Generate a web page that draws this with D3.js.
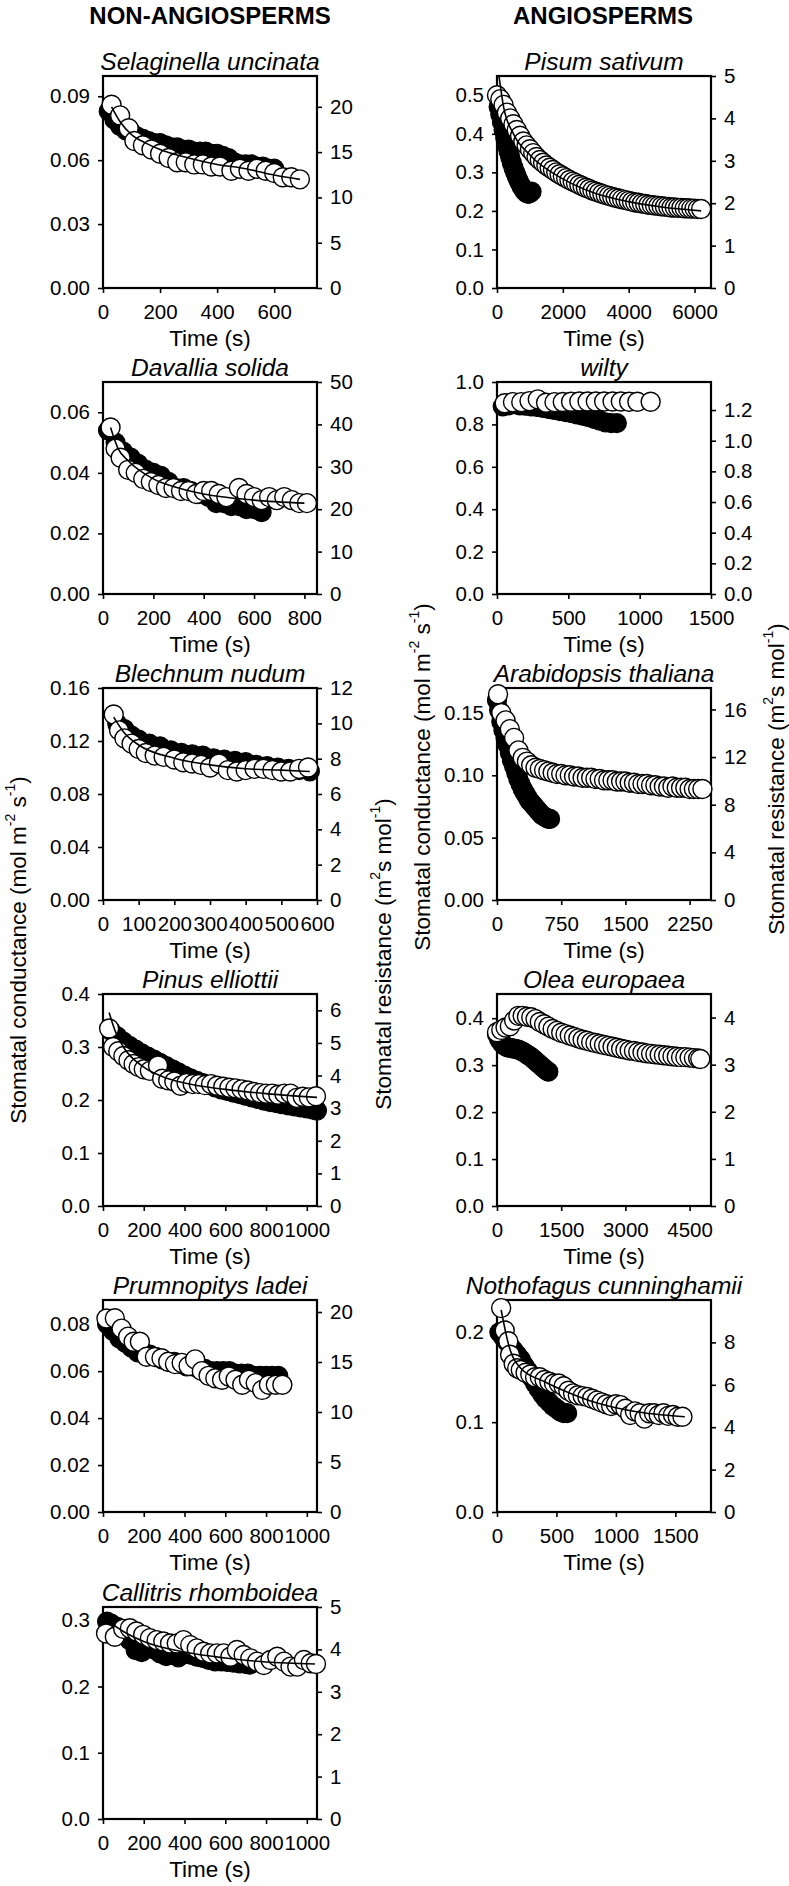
<!DOCTYPE html>
<html><head><meta charset="utf-8">
<script src="https://cdn.jsdelivr.net/npm/d3@7"></script>
<style>
body{margin:0;background:#fff}
text{font-family:"Liberation Sans",Arial,Helvetica,sans-serif;fill:#000}
</style>
</head><body>
<svg id="chart" width="789" height="1886"></svg>
<script>
// ---------------- DATA ----------------
const columnHeaders = ["NON-ANGIOSPERMS", "ANGIOSPERMS"];
const speciesNames = ["Selaginella uncinata","Davallia solida","Blechnum nudum","Pinus elliottii","Prumnopitys ladei","Callitris rhomboidea",
  "Pisum sativum","wilty","Arabidopsis thaliana","Olea europaea","Nothofagus cunninghamii"];
const xAxisTitle = "Time (s)";

// Selaginella uncinata
const selaginellaFilled = [[20,0.083],[40,0.079],[60,0.076],[80,0.074],[100,0.073],[120,0.071],[140,0.070],[160,0.069],[180,0.068],[200,0.068],[220,0.067],[240,0.066],[260,0.066],[280,0.065],[300,0.065],[320,0.064],[340,0.064],[360,0.064],[380,0.063],[400,0.063],[420,0.062],[440,0.061],[460,0.059],[480,0.058],[500,0.058],[520,0.058],[540,0.057],[560,0.057],[580,0.056],[600,0.056]];
const selaginellaOpen = [[30,0.086],[60,0.081],[90,0.075],[110,0.069],[140,0.067],[170,0.065],[200,0.063],[230,0.061],[260,0.059],[290,0.059],[320,0.058],[350,0.058],[380,0.057],[410,0.057],[450,0.055],[480,0.056],[510,0.055],[540,0.056],[570,0.055],[600,0.054],[630,0.052],[660,0.052],[690,0.051]];
const selaginellaFit = [[30,0.085],[60,0.078],[100,0.072],[150,0.068],[200,0.065],[300,0.061],[400,0.058],[500,0.056],[600,0.053],[690,0.051]];

// Davallia solida
const davalliaFilled = [[20,0.054],[50,0.050],[80,0.047],[110,0.045],[140,0.043],[170,0.041],[200,0.040],[230,0.039],[260,0.037],[290,0.035],[320,0.035],[350,0.034],[380,0.033],[420,0.032],[450,0.030],[480,0.030],[510,0.029],[540,0.029],[570,0.028],[600,0.028],[630,0.027]];
const davalliaOpen = [[30,0.055],[50,0.048],[70,0.045],[100,0.041],[130,0.040],[160,0.038],[190,0.037],[220,0.036],[250,0.035],[280,0.035],[310,0.034],[340,0.034],[370,0.033],[400,0.034],[430,0.034],[460,0.033],[490,0.032],[540,0.035],[570,0.033],[600,0.032],[630,0.031],[660,0.032],[690,0.031],[720,0.032],[750,0.031],[780,0.030],[810,0.030]];
const davalliaFit = [[30,0.055],[60,0.048],[100,0.044],[200,0.038],[300,0.035],[400,0.033],[600,0.031],[800,0.030]];

// Blechnum nudum
const blechnumFilled = [[40,0.133],[60,0.129],[80,0.124],[100,0.121],[130,0.118],[160,0.116],[190,0.113],[220,0.111],[250,0.110],[280,0.109],[310,0.107],[340,0.106],[370,0.105],[400,0.104],[430,0.102],[460,0.101],[490,0.100],[520,0.099],[550,0.098],[580,0.097]];
const blechnumOpen = [[30,0.140],[45,0.128],[60,0.122],[80,0.118],[100,0.114],[120,0.111],[145,0.109],[170,0.108],[200,0.106],[225,0.104],[250,0.103],[275,0.102],[300,0.100],[325,0.103],[350,0.098],[375,0.097],[400,0.098],[425,0.099],[450,0.099],[475,0.098],[500,0.097],[525,0.097],[550,0.099],[575,0.100]];
const blechnumFit = [[30,0.138],[60,0.126],[100,0.117],[200,0.107],[300,0.102],[400,0.099],[500,0.098],[580,0.097]];

// Pinus elliottii
const pinusFilled = [[40,0.330],[70,0.320],[100,0.310],[130,0.302],[160,0.295],[190,0.288],[220,0.282],[250,0.276],[280,0.270],[310,0.264],[340,0.258],[370,0.252],[400,0.246],[430,0.241],[460,0.236],[490,0.232],[520,0.228],[550,0.224],[580,0.220],[610,0.217],[640,0.214],[670,0.211],[700,0.208],[730,0.205],[760,0.202],[790,0.199],[820,0.196],[850,0.194],[880,0.192],[910,0.190],[940,0.188],[970,0.186],[1000,0.184],[1030,0.182],[1050,0.180]];
const pinusOpen = [[30,0.335],[50,0.300],[75,0.292],[100,0.283],[125,0.275],[150,0.268],[175,0.262],[200,0.258],[230,0.255],[270,0.265],[290,0.240],[320,0.237],[350,0.235],[380,0.227],[410,0.232],[440,0.230],[470,0.230],[500,0.228],[530,0.230],[560,0.227],[590,0.225],[620,0.223],[650,0.222],[680,0.220],[710,0.218],[740,0.215],[770,0.213],[800,0.212],[830,0.212],[860,0.210],[890,0.212],[920,0.212],[950,0.204],[980,0.206],[1010,0.205],[1045,0.207]];
const pinusFit = [[30,0.365],[60,0.330],[100,0.300],[200,0.262],[300,0.243],[400,0.232],[600,0.220],[800,0.212],[1050,0.205]];

// Prumnopitys ladei
const prumnopitysFilled = [[20,0.080],[50,0.077],[80,0.074],[110,0.072],[140,0.070],[170,0.068],[200,0.068],[230,0.067],[260,0.066],[290,0.065],[320,0.064],[350,0.064],[380,0.063],[410,0.062],[440,0.062],[470,0.061],[500,0.061],[530,0.060],[560,0.060],[590,0.060],[620,0.060],[650,0.059],[680,0.059],[710,0.059],[740,0.058],[770,0.058],[800,0.058],[830,0.058],[860,0.058]];
const prumnopitysOpen = [[17,0.0824],[58,0.0825],[91,0.0781],[123,0.0747],[150,0.0725],[181,0.0725],[214,0.0661],[255,0.066],[287,0.0655],[320,0.064],[353,0.063],[386,0.0635],[420,0.0622],[452,0.065],[485,0.060],[518,0.058],[551,0.057],[584,0.0563],[617,0.0577],[650,0.0563],[683,0.0542],[716,0.0563],[749,0.0549],[781,0.052],[814,0.0542],[848,0.0542],[880,0.0542]];

// Callitris rhomboidea
const callitrisFilled = [[20,0.298],[40,0.295],[70,0.290],[100,0.283],[130,0.270],[160,0.255],[190,0.252],[220,0.262],[250,0.256],[280,0.250],[310,0.246],[340,0.248],[370,0.244],[400,0.250],[430,0.248],[460,0.245],[490,0.243],[520,0.240],[550,0.238],[580,0.238],[610,0.237],[640,0.236],[670,0.235],[700,0.234],[720,0.233]];
const callitrisOpen = [[15,0.280],[58,0.275],[99,0.287],[132,0.288],[164,0.283],[197,0.278],[230,0.273],[263,0.270],[296,0.268],[329,0.265],[362,0.265],[395,0.270],[428,0.2625],[460,0.2575],[493,0.2525],[526,0.250],[559,0.250],[592,0.250],[625,0.245],[657,0.255],[690,0.2475],[723,0.2425],[756,0.2375],[789,0.2325],[822,0.240],[855,0.245],[888,0.2375],[920,0.230],[953,0.230],[986,0.240],[1019,0.235],[1045,0.234]];
const callitrisFit = [[30,0.298],[100,0.283],[200,0.268],[400,0.252],[600,0.243],[800,0.237],[1040,0.234]];

// Pisum sativum
const pisumFilled = [[50,0.47],[100,0.45],[150,0.43],[200,0.41],[250,0.39],[300,0.37],[350,0.355],[400,0.34],[450,0.325],[500,0.312],[550,0.300],[600,0.290],[650,0.280],[700,0.271],[750,0.263],[800,0.256],[850,0.250],[900,0.246],[950,0.244],[1000,0.246],[1050,0.250]];
const pisumOpen = [[0,0.50],[100,0.49],[200,0.475],[300,0.455],[400,0.44],[500,0.425],[600,0.41],[700,0.395],[800,0.38],[900,0.37],[1000,0.36],[1100,0.35],[1200,0.34],[1300,0.332],[1400,0.325],[1500,0.318],[1600,0.312],[1700,0.306],[1800,0.300],[1900,0.295],[2000,0.290],[2100,0.285],[2200,0.280],[2300,0.276],[2400,0.272],[2500,0.268],[2600,0.264],[2700,0.260],[2800,0.257],[2900,0.253],[3000,0.250],[3100,0.247],[3200,0.244],[3300,0.241],[3400,0.239],[3500,0.236],[3600,0.234],[3700,0.232],[3800,0.230],[3900,0.228],[4000,0.226],[4100,0.224],[4200,0.222],[4300,0.221],[4400,0.219],[4500,0.218],[4600,0.216],[4700,0.215],[4800,0.214],[4900,0.213],[5000,0.212],[5100,0.211],[5200,0.210],[5300,0.209],[5400,0.209],[5500,0.208],[5600,0.208],[5700,0.207],[5800,0.207],[5900,0.206],[6000,0.206],[6100,0.205],[6200,0.205]];
const pisumFit = [[60,0.55],[200,0.47],[500,0.40],[1000,0.345],[2000,0.283],[3000,0.245],[4000,0.224],[5000,0.210],[6200,0.200]];

// wilty
const wiltyFilled = [[40,0.885],[80,0.890],[120,0.895],[160,0.890],[200,0.888],[240,0.885],[280,0.882],[320,0.878],[360,0.873],[400,0.868],[440,0.863],[480,0.858],[520,0.853],[560,0.847],[600,0.841],[640,0.834],[680,0.826],[720,0.818],[760,0.810],[800,0.806],[840,0.806]];
const wiltyOpen = [[54,0.900],[112,0.905],[170,0.905],[228,0.910],[286,0.918],[344,0.902],[403,0.905],[461,0.906],[519,0.907],[577,0.908],[635,0.908],[693,0.908],[751,0.908],[810,0.908],[868,0.908],[926,0.907],[984,0.907],[1077,0.907]];

// Arabidopsis thaliana
const arabidopsisFilled = [[0,0.160],[25,0.152],[50,0.143],[75,0.136],[100,0.130],[125,0.124],[150,0.118],[175,0.112],[200,0.107],[225,0.102],[250,0.097],[275,0.093],[300,0.089],[325,0.086],[350,0.083],[375,0.080],[400,0.078],[425,0.076],[450,0.074],[475,0.072],[500,0.070],[525,0.068],[550,0.067],[575,0.066],[600,0.065],[620,0.065]];
const arabidopsisOpen = [[12,0.165],[50,0.150],[100,0.144],[150,0.137],[200,0.130],[250,0.120],[300,0.114],[350,0.111],[400,0.108],[450,0.106],[500,0.105],[550,0.104],[600,0.103],[650,0.102],[700,0.101],[750,0.101],[800,0.100],[850,0.100],[900,0.099],[950,0.099],[1000,0.098],[1050,0.098],[1100,0.098],[1150,0.097],[1200,0.097],[1250,0.096],[1300,0.096],[1350,0.096],[1400,0.095],[1450,0.095],[1500,0.095],[1550,0.094],[1600,0.094],[1650,0.093],[1700,0.093],[1750,0.093],[1800,0.092],[1850,0.092],[1900,0.091],[1950,0.091],[2000,0.090],[2050,0.091],[2100,0.090],[2150,0.090],[2200,0.090],[2250,0.089],[2300,0.089],[2350,0.089],[2400,0.089]];

// Olea europaea
const oleaFilled = [[0,0.365],[50,0.355],[100,0.348],[150,0.343],[200,0.340],[250,0.338],[300,0.337],[350,0.336],[400,0.335],[450,0.334],[500,0.333],[550,0.331],[600,0.329],[650,0.326],[700,0.323],[750,0.320],[800,0.317],[850,0.313],[900,0.309],[950,0.305],[1000,0.301],[1050,0.297],[1100,0.293],[1150,0.289],[1200,0.286]];
const oleaOpen = [[0,0.370],[100,0.375],[200,0.380],[300,0.383],[400,0.395],[500,0.405],[600,0.405],[700,0.403],[800,0.402],[900,0.398],[1000,0.392],[1100,0.387],[1200,0.382],[1300,0.377],[1400,0.373],[1500,0.369],[1600,0.366],[1700,0.363],[1800,0.360],[1900,0.357],[2000,0.354],[2100,0.352],[2200,0.349],[2300,0.347],[2400,0.345],[2500,0.343],[2600,0.341],[2700,0.339],[2800,0.337],[2900,0.335],[3000,0.333],[3100,0.331],[3200,0.330],[3300,0.328],[3400,0.327],[3500,0.325],[3600,0.324],[3700,0.323],[3800,0.322],[3900,0.321],[4000,0.320],[4100,0.319],[4200,0.318],[4300,0.317],[4400,0.317],[4500,0.316],[4600,0.315],[4700,0.314],[4750,0.313]];

// Nothofagus cunninghamii
const nothofagusFilled = [[20,0.200],[50,0.195],[80,0.190],[110,0.185],[140,0.180],[170,0.175],[200,0.170],[230,0.163],[260,0.157],[290,0.150],[320,0.143],[350,0.137],[380,0.131],[410,0.126],[440,0.122],[470,0.118],[500,0.115],[530,0.112],[560,0.110],[590,0.110]];
const nothofagusOpen = [[35,0.227],[65,0.202],[95,0.190],[110,0.175],[140,0.165],[170,0.160],[200,0.158],[240,0.155],[280,0.153],[320,0.150],[360,0.150],[400,0.147],[440,0.145],[480,0.143],[520,0.143],[560,0.140],[600,0.135],[640,0.132],[680,0.130],[720,0.129],[760,0.128],[800,0.126],[840,0.124],[880,0.122],[920,0.120],[960,0.118],[1000,0.120],[1040,0.119],[1080,0.115],[1120,0.108],[1160,0.112],[1200,0.110],[1240,0.104],[1280,0.110],[1320,0.110],[1360,0.108],[1400,0.110],[1440,0.107],[1480,0.108],[1520,0.106],[1560,0.106]];
const nothofagusFit = [[35,0.225],[100,0.185],[200,0.160],[400,0.145],[600,0.133],[800,0.123],[1000,0.116],[1200,0.111],[1400,0.108],[1580,0.106]];

// axis domains and ticks (x domain max, left y max, right y max)
const xMax   = [750, 850, 600, 1050, 1050, 1050, 6500, 1500, 2500, 5000, 1800];
const yMax   = [0.0995, 0.07, 0.16, 0.4, 0.0903, 0.32, 0.55, 1.0, 0.17, 0.4515, 0.236];
const y2Max  = [23.4, 50, 12, 6.5, 21.2, 5, 5, 1.383, 17.8, 4.5, 10];
const xTicks = [[0,200,400,600],[0,200,400,600,800],[0,100,200,300,400,500,600],[0,200,400,600,800,1000],[0,200,400,600,800,1000],[0,200,400,600,800,1000],
  [0,2000,4000,6000],[0,500,1000,1500],[0,750,1500,2250],[0,1500,3000,4500],[0,500,1000,1500]];
const yTicks = [[0,0.03,0.06,0.09],[0,0.02,0.04,0.06],[0,0.04,0.08,0.12,0.16],[0,0.1,0.2,0.3,0.4],[0,0.02,0.04,0.06,0.08],[0,0.1,0.2,0.3],
  [0,0.1,0.2,0.3,0.4,0.5],[0,0.2,0.4,0.6,0.8,1.0],[0,0.05,0.10,0.15],[0,0.1,0.2,0.3,0.4],[0,0.1,0.2]];
const yTickFormats = [".2f",".2f",".2f",".1f",".2f",".1f",".1f",".1f",".2f",".1f",".1f"];
const y2Ticks = [[0,5,10,15,20],[0,10,20,30,40,50],[0,2,4,6,8,10,12],[0,1,2,3,4,5,6],[0,5,10,15,20],[0,1,2,3,4,5],
  [0,1,2,3,4,5],[0,0.2,0.4,0.6,0.8,1.0,1.2],[0,4,8,12,16],[0,1,2,3,4],[0,2,4,6,8]];
const y2TickFormats = ["d","d","d","d","d","d","d",".1f","d","d","d"];

const filledSeries = [selaginellaFilled,davalliaFilled,blechnumFilled,pinusFilled,prumnopitysFilled,callitrisFilled,pisumFilled,wiltyFilled,arabidopsisFilled,oleaFilled,nothofagusFilled];
const openSeries = [selaginellaOpen,davalliaOpen,blechnumOpen,pinusOpen,prumnopitysOpen,callitrisOpen,pisumOpen,wiltyOpen,arabidopsisOpen,oleaOpen,nothofagusOpen];
const fitSeries = [selaginellaFit,davalliaFit,blechnumFit,pinusFit,null,callitrisFit,pisumFit,null,null,null,nothofagusFit];

// ---------------- LAYOUT ----------------
const svg = d3.select("#chart");
const colLeft = [103, 497];
const panelW = 214, panelH = 212;
const rowTop = [76, 382, 688, 994, 1300, 1607];
const panelPos = [[0,0],[0,1],[0,2],[0,3],[0,4],[0,5],[1,0],[1,1],[1,2],[1,3],[1,4]];
const R = 9.5;
const tickFont = "20.5px", labelFont = "22.5px", titleFont = "24.5px";

// column headers
[210, 603].forEach((cx, i) => {
  svg.append("text").attr("x", cx).attr("y", 24).attr("text-anchor", "middle")
    .attr("font-weight", "bold").attr("font-size", "24px").text(columnHeaders[i]);
});

speciesNames.forEach((name, i) => {
  const [col, row] = panelPos[i];
  const x0 = colLeft[col], top = rowTop[row], bottom = top + panelH, x1 = x0 + panelW;
  const x = d3.scaleLinear().domain([0, xMax[i]]).range([x0, x1]);
  const y = d3.scaleLinear().domain([0, yMax[i]]).range([bottom, top]);
  const y2 = d3.scaleLinear().domain([0, y2Max[i]]).range([bottom, top]);
  const g = svg.append("g");

  // axes
  const styleAxis = sel => {
    sel.select(".domain").remove();
    sel.selectAll(".tick line").attr("stroke", "#000").attr("stroke-width", 1.6);
    sel.selectAll(".tick text").attr("font-size", tickFont).attr("fill", "#000")
      .style("font-family", '"Liberation Sans",Arial,sans-serif');
  };
  g.append("g").attr("transform", `translate(0,${bottom})`)
    .call(d3.axisBottom(x).tickValues(xTicks[i]).tickFormat(d3.format("d")).tickSize(5).tickSizeOuter(0).tickPadding(11))
    .call(styleAxis);
  g.append("g").attr("transform", `translate(${x0},0)`)
    .call(d3.axisLeft(y).tickValues(yTicks[i]).tickFormat(d3.format(yTickFormats[i])).tickSize(5).tickSizeOuter(0).tickPadding(8))
    .call(styleAxis);
  g.append("g").attr("transform", `translate(${x1},0)`)
    .call(d3.axisRight(y2).tickValues(y2Ticks[i]).tickFormat(d3.format(y2TickFormats[i])).tickSize(5).tickSizeOuter(0).tickPadding(8))
    .call(styleAxis);

  // frame
  g.append("rect").attr("x", x0).attr("y", top).attr("width", panelW).attr("height", panelH)
    .attr("fill", "none").attr("stroke", "#000").attr("stroke-width", 2.2);

  // filled circles
  g.append("g").selectAll("circle").data(filledSeries[i]).join("circle")
    .attr("cx", d => x(d[0])).attr("cy", d => y(d[1])).attr("r", R)
    .attr("fill", "#000").attr("stroke", "#000").attr("stroke-width", 1.2);
  // open circles
  g.append("g").selectAll("circle").data(openSeries[i]).join("circle")
    .attr("cx", d => x(d[0])).attr("cy", d => y(d[1])).attr("r", R)
    .attr("fill", "#fff").attr("stroke", "#000").attr("stroke-width", 1.4);
  // fitted line
  if (fitSeries[i]) {
    const line = d3.line().x(d => x(d[0])).y(d => y(d[1])).curve(d3.curveMonotoneX);
    g.append("path").datum(fitSeries[i]).attr("d", line)
      .attr("fill", "none").attr("stroke", "#000").attr("stroke-width", 1.6);
  }

  // title and x label
  g.append("text").attr("x", (x0 + x1) / 2).attr("y", top - 6).attr("text-anchor", "middle")
    .attr("font-style", "italic").attr("font-size", titleFont).text(name);
  g.append("text").attr("x", (x0 + x1) / 2).attr("y", bottom + 58).attr("text-anchor", "middle")
    .attr("font-size", labelFont).text(xAxisTitle);
});

// y-axis titles
function condLabel(cx, cy) {
  const t = svg.append("text").attr("transform", `translate(${cx},${cy}) rotate(-90)`)
    .attr("text-anchor", "middle").attr("dominant-baseline", "central").attr("font-size", labelFont);
  t.append("tspan").text("Stomatal conductance (mol m");
  t.append("tspan").attr("dy", -8).attr("font-size", "14px").text("-2");
  t.append("tspan").attr("dy", 8).text(" s");
  t.append("tspan").attr("dy", -8).attr("font-size", "14px").text("-1");
  t.append("tspan").attr("dy", 8).text(")");
}
function resLabel(cx, cy) {
  const t = svg.append("text").attr("transform", `translate(${cx},${cy}) rotate(-90)`)
    .attr("text-anchor", "middle").attr("dominant-baseline", "central").attr("font-size", labelFont);
  t.append("tspan").text("Stomatal resistance (m");
  t.append("tspan").attr("dy", -8).attr("font-size", "14px").text("2");
  t.append("tspan").attr("dy", 8).text("s mol");
  t.append("tspan").attr("dy", -8).attr("font-size", "14px").text("-1");
  t.append("tspan").attr("dy", 8).text(")");
}
condLabel(18, 950);
resLabel(383, 954);
condLabel(422, 777);
resLabel(776, 779);
</script>
</body></html>
